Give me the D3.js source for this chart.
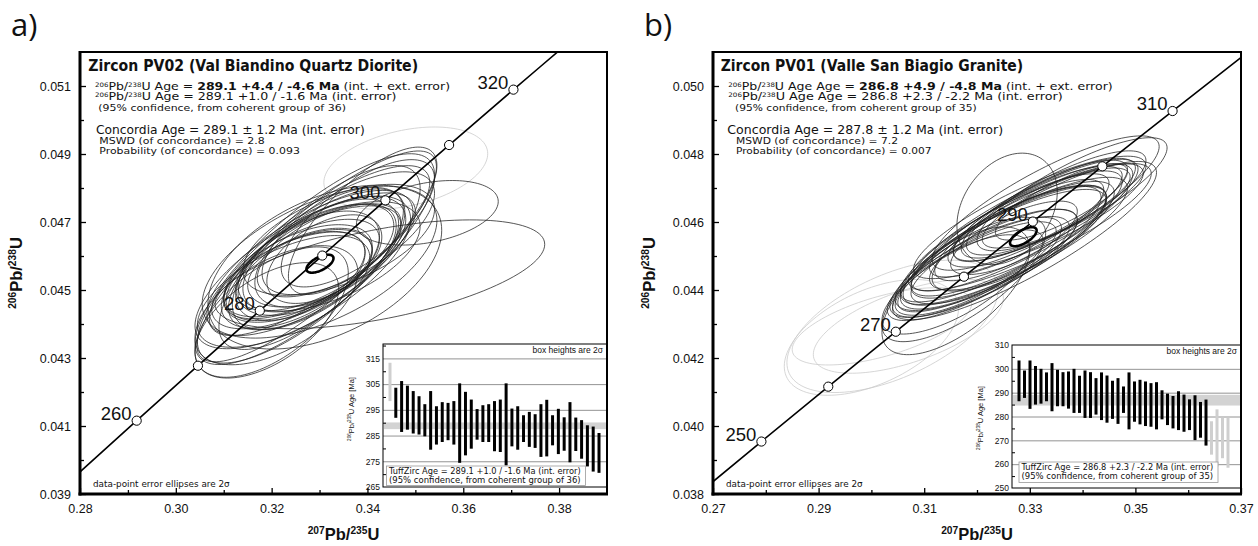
<!DOCTYPE html>
<html>
<head>
<meta charset="utf-8">
<script src="https://cdn.jsdelivr.net/npm/d3@7"></script>
<style>
  body { margin: 0; background: #fff; }
  text { white-space: pre; }
</style>
</head>
<body>
<svg id="chart" width="1258" height="546"></svg>
<script>
/* concordia reference points: age (Ma), 207Pb/235U, 206Pb/238U */
var concordiaAge = [230, 240, 250, 260, 270, 280, 290, 300, 310, 320, 330];
var concordiaX = [0.25422, 0.26664, 0.27917, 0.29183, 0.30462, 0.31753, 0.33057, 0.34374, 0.35704, 0.37047, 0.38403];
var concordiaY = [0.036323, 0.037932, 0.039543, 0.041157, 0.042773, 0.044392, 0.046013, 0.047637, 0.049264, 0.050893, 0.052524];

/* ---------- panel a : PV02 ---------- */
var markedAgesA = [260, 270, 280, 290, 300, 310, 320];
var labelledAgesA = [260, 280, 300, 320];
var xMajorA = [0.28, 0.30, 0.32, 0.34, 0.36, 0.38];
var xMinorA = [0.29, 0.31, 0.33, 0.35, 0.37];
var yMajorA = [0.039, 0.041, 0.043, 0.045, 0.047, 0.049, 0.051];
var yMinorA = [0.040, 0.042, 0.044, 0.046, 0.048, 0.050];

// one entry per grain, first grain is outside the coherent group
var rejectedA = [1, 0, 0, 0, 0, 0, 0, 0, 0, 0, 0, 0, 0, 0, 0, 0, 0, 0, 0, 0, 0, 0, 0, 0, 0, 0, 0, 0, 0, 0, 0, 0, 0, 0, 0, 0, 0];
var ellXA = [0.3480, 0.3525, 0.3390, 0.3380, 0.3360, 0.3340, 0.3320, 0.3300, 0.3285, 0.3310, 0.3315, 0.3300, 0.3294, 0.3300, 0.3298, 0.3310, 0.3290, 0.3320, 0.3280, 0.3300, 0.3290, 0.3275, 0.3285, 0.3280, 0.3265, 0.3255, 0.3265, 0.3311, 0.3270, 0.3426, 0.3245, 0.3260, 0.3235, 0.3225, 0.3210, 0.3200, 0.3190];
var ellSXA = [0.0171, 0.0148, 0.0155, 0.0160, 0.0180, 0.0200, 0.0150, 0.0230, 0.0185, 0.0170, 0.0150, 0.0200, 0.0250, 0.0210, 0.0180, 0.0120, 0.0165, 0.0190, 0.0215, 0.0245, 0.0250, 0.0150, 0.0175, 0.0130, 0.0160, 0.0155, 0.0225, 0.0244, 0.0140, 0.0344, 0.0150, 0.0215, 0.0160, 0.0180, 0.0170, 0.0160, 0.0150];
var ellYA = [0.048585, 0.047271, 0.047035, 0.046962, 0.046670, 0.046476, 0.046167, 0.046159, 0.045843, 0.046054, 0.046086, 0.046005, 0.045989, 0.045956, 0.045924, 0.045908, 0.045956, 0.045989, 0.045794, 0.045819, 0.045908, 0.045713, 0.045681, 0.045640, 0.045591, 0.045486, 0.045518, 0.045673, 0.045535, 0.045462, 0.045299, 0.045413, 0.045283, 0.044959, 0.044553, 0.044350, 0.044107];
var ellSYA = [0.001209, 0.000949, 0.002168, 0.001872, 0.001806, 0.001632, 0.001369, 0.002498, 0.001632, 0.001697, 0.001588, 0.001851, 0.003100, 0.002705, 0.002091, 0.001303, 0.001566, 0.001609, 0.002136, 0.002234, 0.003100, 0.001609, 0.001851, 0.001139, 0.001489, 0.001435, 0.002245, 0.002410, 0.001281, 0.001600, 0.001424, 0.002562, 0.001424, 0.001643, 0.001752, 0.001917, 0.001697];
var ellRhoA = [0.35, 0.35, 0.75, 0.70, 0.65, 0.55, 0.60, 0.80, 0.65, 0.60, 0.55, 0.70, 0.85, 0.75, 0.65, 0.50, 0.60, 0.55, 0.70, 0.55, 0.80, 0.55, 0.65, 0.45, 0.60, 0.55, 0.70, 0.45, 0.50, 0.55, 0.55, 0.75, 0.60, 0.60, 0.55, 0.60, 0.55];
var barLoA = [298.4, 291.9, 286.4, 287.3, 285.8, 285.4, 284.7, 279.5, 281.5, 282.5, 283.2, 281.5, 274.4, 277.3, 279.9, 283.4, 282.5, 282.5, 278.9, 278.6, 273.4, 280.8, 279.5, 282.5, 280.6, 280.2, 276.7, 276.9, 281.2, 277.8, 279.1, 274.6, 279.0, 276.0, 273.0, 271.0, 270.5];
var barHiA = [313.3, 303.6, 306.2, 304.4, 302.3, 300.3, 297.2, 302.3, 296.4, 298.0, 297.7, 298.4, 305.3, 302.0, 299.0, 295.3, 296.8, 297.2, 298.4, 299.0, 305.3, 295.5, 296.4, 292.9, 294.2, 293.3, 297.2, 298.9, 292.9, 295.4, 292.1, 298.0, 292.0, 291.0, 289.0, 288.5, 286.0];
var concEllA = [0.33009, 0.00282, 0.045774, 0.000265, 0.6];   // x, sx, y, sy, rho
var bandA = [287.5, 290.1];
var insetLabelsA = [265, 275, 285, 295, 305, 315];
var insetMinorA = [270, 280, 290, 300, 310, 320];

var titleA = "Zircon PV02 (Val Biandino Quartz Diorite)";
var headerA = [
  [["206", "s"], ["Pb/", ""], ["238", "s"], ["U Age = ", ""], ["289.1 +4.4 / -4.6 Ma", "b"], [" (int. + ext. error)", ""]],
  [["206", "s"], ["Pb/", ""], ["238", "s"], ["U Age = 289.1 +1.0 / -1.6 Ma (int. error)", ""]],
  [["(95% confidence, from coherent group of 36)", ""]],
  [["Concordia Age = 289.1 \u00b1 1.2 Ma (int. error)", ""]],
  [["MSWD (of concordance) = 2.8", ""]],
  [["Probability (of concordance) = 0.093", ""]]
];
var tuffA = ["TuffZirc Age = 289.1 +1.0 / -1.6 Ma (int. error)", "(95% confidence, from coherent group of 36)"];

/* ---------- panel b : PV01 ---------- */
var markedAgesB = [250, 260, 270, 280, 290, 300, 310];
var labelledAgesB = [250, 270, 290, 310];
var xMajorB = [0.27, 0.29, 0.31, 0.33, 0.35, 0.37];
var xMinorB = [0.28, 0.30, 0.32, 0.34, 0.36];
var yMajorB = [0.038, 0.040, 0.042, 0.044, 0.046, 0.048, 0.050];
var yMinorB = [0.039, 0.041, 0.043, 0.045, 0.047, 0.049];

// last four grains are outside the coherent group
var rejectedB = [0, 0, 0, 0, 0, 0, 0, 0, 0, 0, 0, 0, 0, 0, 0, 0, 0, 0, 0, 0, 0, 0, 0, 0, 0, 0, 0, 0, 0, 0, 0, 0, 0, 0, 0, 1, 1, 1, 1];
var ellXB = [0.3380, 0.3360, 0.3330, 0.3345, 0.3340, 0.3350, 0.3257, 0.3320, 0.3315, 0.3330, 0.3300, 0.3280, 0.3290, 0.3300, 0.3280, 0.3285, 0.3265, 0.3280, 0.3270, 0.3270, 0.3290, 0.3255, 0.3260, 0.3250, 0.3245, 0.3240, 0.3250, 0.3225, 0.3200, 0.3215, 0.3195, 0.3185, 0.3175, 0.3160, 0.3160, 0.3020, 0.3040, 0.3070, 0.3000];
var ellSXB = [0.0180, 0.0125, 0.0215, 0.0175, 0.0160, 0.0140, 0.0095, 0.0165, 0.0160, 0.0185, 0.0220, 0.0170, 0.0215, 0.0230, 0.0160, 0.0210, 0.0210, 0.0165, 0.0215, 0.0120, 0.0250, 0.0180, 0.0200, 0.0195, 0.0200, 0.0205, 0.0140, 0.0150, 0.0150, 0.0175, 0.0165, 0.0140, 0.0155, 0.0140, 0.0140, 0.0170, 0.0200, 0.0180, 0.0165];
var ellYB = [0.046816, 0.046589, 0.046557, 0.046516, 0.046451, 0.046411, 0.046386, 0.046330, 0.046248, 0.046192, 0.046135, 0.045900, 0.045908, 0.045851, 0.045762, 0.045770, 0.045575, 0.045527, 0.045445, 0.045535, 0.045454, 0.045405, 0.045372, 0.045259, 0.045178, 0.045121, 0.045186, 0.044878, 0.044683, 0.044788, 0.044618, 0.044513, 0.044310, 0.044164, 0.043977, 0.042931, 0.042931, 0.042931, 0.042606];
var ellSYB = [0.001664, 0.001120, 0.001976, 0.001577, 0.001421, 0.001178, 0.001639, 0.001489, 0.001392, 0.001518, 0.001801, 0.001518, 0.001937, 0.001870, 0.001489, 0.001946, 0.001927, 0.001558, 0.001870, 0.001080, 0.002327, 0.001645, 0.001820, 0.001820, 0.001781, 0.001927, 0.001188, 0.001285, 0.001324, 0.001586, 0.001518, 0.001255, 0.001830, 0.001460, 0.001879, 0.001136, 0.001947, 0.001379, 0.001703];
var ellRhoB = [0.82, 0.80, 0.84, 0.82, 0.80, 0.78, 0.30, 0.82, 0.80, 0.82, 0.84, 0.82, 0.85, 0.84, 0.80, 0.84, 0.84, 0.76, 0.83, 0.72, 0.86, 0.80, 0.82, 0.82, 0.81, 0.83, 0.72, 0.76, 0.79, 0.80, 0.79, 0.76, 0.74, 0.72, 0.65, 0.60, 0.55, 0.60, 0.50];
var barLoB = [286.4, 287.8, 283.2, 285.0, 285.4, 286.4, 282.2, 284.3, 284.3, 283.3, 281.5, 281.5, 279.4, 279.4, 280.8, 278.5, 277.4, 279.0, 276.9, 281.5, 274.6, 277.8, 276.7, 276.0, 275.7, 274.6, 278.8, 276.4, 275.0, 274.3, 273.6, 274.3, 270.1, 271.1, 267.8, 264.0, 259.0, 262.5, 258.5];
var barHiB = [303.5, 299.3, 303.5, 301.2, 300.0, 298.5, 302.4, 299.6, 298.6, 298.9, 300.0, 297.1, 299.3, 298.6, 296.1, 298.5, 297.2, 295.0, 296.1, 292.6, 298.5, 294.7, 295.4, 294.7, 294.0, 294.4, 291.0, 289.6, 288.6, 290.6, 289.2, 287.2, 288.9, 286.1, 287.1, 278.0, 283.0, 279.5, 279.5];
var concEllB = [0.32877, 0.00252, 0.045568, 0.000280, 0.65];
var bandB = [284.6, 289.1];
var insetLabelsB = [250, 260, 270, 280, 290, 300, 310];
var insetMinorB = [255, 265, 275, 285, 295, 305];

var titleB = "Zircon PV01 (Valle San Biagio Granite)";
var headerB = [
  [["206", "s"], ["Pb/", ""], ["238", "s"], ["U Age Age = ", ""], ["286.8 +4.9 / -4.8 Ma", "b"], [" (int. + ext. error)", ""]],
  [["206", "s"], ["Pb/", ""], ["238", "s"], ["U Age Age = 286.8 +2.3 / -2.2 Ma (int. error)", ""]],
  [["(95% confidence, from coherent group of 35)", ""]],
  [["Concordia Age = 287.8 \u00b1 1.2 Ma (int. error)", ""]],
  [["MSWD (of concordance) = 7.2", ""]],
  [["Probability (of concordance) = 0.007", ""]]
];
var tuffB = ["TuffZirc Age = 286.8 +2.3 / -2.2 Ma (int. error)", "(95% confidence, from coherent group of 35)"];

var xTitle = [["207", "s"], ["Pb/", ""], ["235", "s"], ["U", ""]];
var yTitle = [["206", "s"], ["Pb/", ""], ["238", "s"], ["U", ""]];
var insetTitle = [["206", "s"], ["Pb/", ""], ["238", "s"], ["U Age [Ma]", ""]];


var svg = d3.select("#chart");
var defs = svg.append("defs");

// text with superscripts / bold runs, optionally squeezed to a given width
function richText(parent, x, y, parts, size, opts) {
  opts = opts || {};
  var rise = opts.rise || 0.38;
  var t = parent.append("text")
      .attr("font-family", opts.family || "DejaVu Sans")
      .attr("font-size", size)
      .attr("font-weight", opts.weight || "normal")
      .attr("fill", "#111");
  var up = false;
  parts.forEach(function(part) {
    var s = t.append("tspan").text(part[0]);
    if (part[1] === "s") {
      s.attr("font-size", size * (opts.supSize || 0.62));
      if (!up) s.attr("dy", -size * rise);
      up = true;
    } else {
      if (up) s.attr("dy", size * rise);
      up = false;
      if (part[1] === "b") s.attr("font-weight", "bold");
    }
  });
  var w = t.node().getComputedTextLength();
  var k = opts.width ? opts.width / w : 1;
  var shift = opts.middle ? -w * k / 2 : 0;
  t.attr("transform", "translate(" + x + "," + y + ")" + (opts.rotate ? " rotate(" + opts.rotate + ")" : "") +
      " translate(" + shift + ",0) scale(" + k + ",1)");
  return t;
}

function ellipsePoints(d) {
  var r = Math.sqrt(1 - d.rho * d.rho);
  return d3.range(120).map(function(i) {
    var a = 2 * Math.PI * i / 120;
    return [d.x + d.sx * Math.cos(a), d.y + d.sy * (d.rho * Math.cos(a) + r * Math.sin(a))];
  });
}

function drawPanel(p) {
  var x = d3.scaleLinear().domain(p.xDomain).range([p.left, p.right]);
  var y = d3.scaleLinear().domain(p.yDomain).range([p.bottom, p.top]);

  defs.append("clipPath").attr("id", "clip-" + p.name)
    .append("rect")
    .attr("x", p.left).attr("y", p.top)
    .attr("width", p.right - p.left).attr("height", p.bottom - p.top);

  var plot = svg.append("g").attr("clip-path", "url(#clip-" + p.name + ")");

  var grains = p.ellX.map(function(v, i) {
    return { x: v, sx: p.ellSX[i], y: p.ellY[i], sy: p.ellSY[i], rho: p.ellRho[i], rejected: p.rejected[i] };
  });
  grains.sort(function(a, b) { return b.rejected - a.rejected; });

  var path = d3.line()
      .x(function(d) { return x(d[0]); })
      .y(function(d) { return y(d[1]); })
      .curve(d3.curveLinearClosed);

  plot.selectAll("path.grain")
    .data(grains)
    .enter()
    .append("path")
    .attr("class", "grain")
    .attr("d", function(d) { return path(ellipsePoints(d)); })
    .attr("fill", "none")
    .attr("stroke", function(d) { return d.rejected ? "#c8c8c8" : "#1e1e1e"; })
    .attr("stroke-width", 0.75);

  // concordia curve
  var curve = d3.line()
      .x(function(d, i) { return x(concordiaX[i]); })
      .y(function(d, i) { return y(concordiaY[i]); })
      .curve(d3.curveCatmullRom);
  plot.append("path")
    .attr("d", curve(concordiaAge))
    .attr("fill", "none")
    .attr("stroke", "#000")
    .attr("stroke-width", 1.6);

  // concordia age ellipse
  var ce = { x: p.concEll[0], sx: p.concEll[1], y: p.concEll[2], sy: p.concEll[3], rho: p.concEll[4] };
  plot.append("path")
    .attr("d", path(ellipsePoints(ce)))
    .attr("fill", "none")
    .attr("stroke", "#000")
    .attr("stroke-width", 2.6);

  // age markers
  plot.selectAll("circle.age")
    .data(p.marked)
    .enter()
    .append("circle")
    .attr("cx", function(d) { return x(concordiaX[concordiaAge.indexOf(d)]); })
    .attr("cy", function(d) { return y(concordiaY[concordiaAge.indexOf(d)]); })
    .attr("r", 4.6)
    .attr("fill", "#fff")
    .attr("stroke", "#000")
    .attr("stroke-width", 1);

  plot.selectAll("text.age")
    .data(p.labelled)
    .enter()
    .append("text")
    .attr("x", function(d) { return x(concordiaX[concordiaAge.indexOf(d)]) - 5; })
    .attr("y", function(d) { return y(concordiaY[concordiaAge.indexOf(d)]) - 1; })
    .attr("text-anchor", "end")
    .attr("font-family", "Liberation Sans")
    .attr("font-size", 18.5)
    .attr("fill", "#111")
    .text(function(d) { return d; });

  drawInset(p);

  // frame and axes
  svg.append("rect")
    .attr("x", p.left).attr("y", p.top)
    .attr("width", p.right - p.left).attr("height", p.bottom - p.top)
    .attr("fill", "none").attr("stroke", "#000").attr("stroke-width", 2);

  var yAxis = svg.append("g")
    .attr("transform", "translate(" + p.left + ",0)")
    .call(d3.axisLeft(y).tickValues(p.yMajor).tickSize(-6).tickPadding(9).tickFormat(d3.format(".3f")));
  var yAxisMinor = svg.append("g")
    .attr("transform", "translate(" + p.left + ",0)")
    .call(d3.axisLeft(y).tickValues(p.yMinor).tickSize(-4).tickFormat(""));
  var xAxis = svg.append("g")
    .attr("transform", "translate(0," + p.bottom + ")")
    .call(d3.axisBottom(x).tickValues(p.xMajor).tickSize(-6).tickPadding(10).tickFormat(d3.format(".2f")));
  var xAxisMinor = svg.append("g")
    .attr("transform", "translate(0," + p.bottom + ")")
    .call(d3.axisBottom(x).tickValues(p.xMinor).tickSize(-4).tickFormat(""));

  [yAxis, yAxisMinor, xAxis, xAxisMinor].forEach(function(a) {
    a.select(".domain").remove();
    a.attr("font-family", "Liberation Sans").attr("font-size", 12.5);
    a.selectAll("line").attr("stroke-width", 1.3);
    a.selectAll("text").attr("fill", "#111");
  });

  svg.append("line")
    .attr("x1", p.left).attr("x2", p.left).attr("y1", p.top - 1).attr("y2", p.bottom + 1.5)
    .attr("stroke", "#000").attr("stroke-width", 3);
  svg.append("line")
    .attr("x1", p.left - 1.5).attr("x2", p.right + 1).attr("y1", p.bottom).attr("y2", p.bottom)
    .attr("stroke", "#000").attr("stroke-width", 3);

  // axis titles
  richText(svg, (p.left + p.right) / 2, 540, xTitle, 16.5, { family: "Liberation Sans", weight: "bold", middle: true });
  richText(svg, p.left - 58, (p.top + p.bottom) / 2, yTitle, 16.5, { family: "Liberation Sans", weight: "bold", middle: true, rotate: -90 });

  // panel letter
  svg.append("text")
    .attr("x", p.left - 69).attr("y", 36)
    .attr("font-family", "Open Sans")
    .attr("font-size", 31)
    .attr("fill", "#111")
    .text(p.letter);

  // header block
  richText(svg, p.titleX, 71, [[p.title, ""]], 16, { weight: "bold", width: p.titleW });
  var lineY = [89.8, 100.3, 110.5, 133.5, 144.3, 153.8];
  var lineSize = [11, 11, 9.5, 11.5, 9.5, 9.5];
  p.header.forEach(function(parts, i) {
    richText(svg, p.lineX[i], lineY[i], parts, lineSize[i], { width: p.lineW[i], rise: 0.3, supSize: 0.56 });
  });

  richText(svg, p.left + 13, 487, [["data-point error ellipses are 2\u03c3", ""]], 8.5, { width: 137 });
}

function drawInset(p) {
  var ins = p.inset;
  var g = svg.append("g");
  var yIn = d3.scaleLinear().domain(ins.domain).range([ins.bottom, ins.top]);
  var xIn = d3.scalePoint().domain(d3.range(p.barLo.length)).range(ins.barRange);
  var w = ins.right - ins.left;

  g.append("rect")
    .attr("x", ins.left).attr("y", ins.top)
    .attr("width", w).attr("height", ins.bottom - ins.top)
    .attr("fill", "#fff");

  var grid = g.append("g")
    .attr("transform", "translate(" + ins.left + ",0)")
    .call(d3.axisLeft(yIn).tickValues(ins.grid).tickSize(-w).tickFormat(""));
  grid.select(".domain").remove();
  grid.selectAll("line").attr("stroke", "#777").attr("stroke-width", 0.8);

  g.append("rect")
    .attr("x", ins.left + 1)
    .attr("width", w - 1)
    .attr("y", yIn(p.band[1]))
    .attr("height", yIn(p.band[0]) - yIn(p.band[1]))
    .attr("fill", "#d3d3d3");

  g.selectAll("line.bar")
    .data(p.barLo)
    .enter()
    .append("line")
    .attr("class", "bar")
    .attr("x1", function(d, i) { return xIn(i); })
    .attr("x2", function(d, i) { return xIn(i); })
    .attr("y1", function(d) { return yIn(d); })
    .attr("y2", function(d, i) { return yIn(p.barHi[i]); })
    .attr("stroke", function(d, i) { return p.rejected[i] ? "#cfcfcf" : "#000"; })
    .attr("stroke-width", 3);

  // TuffZirc note
  g.append("rect")
    .attr("x", ins.boxX).attr("y", ins.boxY)
    .attr("width", 199).attr("height", ins.boxH)
    .attr("fill", "#fff").attr("stroke", "#9a9a9a").attr("stroke-width", 0.8);
  richText(g, ins.boxX + 2.5, ins.boxY + 8, [[p.tuff[0], ""]], 8, { width: 192 });
  richText(g, ins.boxX + 2.5, ins.boxY + 17, [[p.tuff[1], ""]], 8, { width: 192 });

  g.append("text")
    .attr("x", ins.right - 4).attr("y", ins.top + 8.5)
    .attr("text-anchor", "end")
    .attr("font-family", "Liberation Sans")
    .attr("font-size", 8.5)
    .attr("fill", "#111")
    .text("box heights are 2\u03c3");

  g.append("rect")
    .attr("x", ins.left).attr("y", ins.top)
    .attr("width", w).attr("height", ins.bottom - ins.top)
    .attr("fill", "none").attr("stroke", "#000").attr("stroke-width", 1);

  var lab = g.append("g")
    .attr("transform", "translate(" + ins.left + ",0)")
    .call(d3.axisLeft(yIn).tickValues(ins.labels).tickSize(0).tickPadding(3));
  var minor = g.append("g")
    .attr("transform", "translate(" + ins.left + ",0)")
    .call(d3.axisLeft(yIn).tickValues(ins.minor).tickSize(-3).tickFormat(""));
  [lab, minor].forEach(function(a) {
    a.select(".domain").remove();
    a.attr("font-family", "Liberation Sans").attr("font-size", 8.5);
    a.selectAll("text").attr("fill", "#111");
  });

  richText(g, ins.left - 29.5, ins.titleY, insetTitle, 7.5, { family: "Liberation Sans", middle: true, rotate: -90 });
}

drawPanel({
  name: "a", letter: "a)",
  left: 80, right: 607, top: 52, bottom: 494,
  xDomain: [0.28, 0.39], yDomain: [0.039, 0.052],
  xMajor: xMajorA, xMinor: xMinorA, yMajor: yMajorA, yMinor: yMinorA,
  marked: markedAgesA, labelled: labelledAgesA,
  rejected: rejectedA, ellX: ellXA, ellSX: ellSXA, ellY: ellYA, ellSY: ellSYA, ellRho: ellRhoA,
  concEll: concEllA, barLo: barLoA, barHi: barHiA, band: bandA, tuff: tuffA,
  title: titleA, titleX: 88.3, titleW: 330, header: headerA,
  lineX: [95, 95, 98.3, 96, 99.3, 99.3], lineW: [355.7, 301.7, 247.7, 269, 165.7, 200.7],
  inset: { left: 383, right: 607, top: 344, bottom: 487, domain: [265, 320.6], barRange: [390, 599],
           grid: [275, 285, 295, 305, 315], labels: insetLabelsA, minor: insetMinorA,
           boxX: 386.5, boxY: 466, boxH: 19.5, titleY: 409 }
});

drawPanel({
  name: "b", letter: "b)",
  left: 713, right: 1241, top: 52, bottom: 494,
  xDomain: [0.27, 0.37], yDomain: [0.038, 0.051],
  xMajor: xMajorB, xMinor: xMinorB, yMajor: yMajorB, yMinor: yMinorB,
  marked: markedAgesB, labelled: labelledAgesB,
  rejected: rejectedB, ellX: ellXB, ellSX: ellSXB, ellY: ellYB, ellSY: ellSYB, ellRho: ellRhoB,
  concEll: concEllB, barLo: barLoB, barHi: barHiB, band: bandB, tuff: tuffB,
  title: titleB, titleX: 720.7, titleW: 302.6, header: headerB,
  lineX: [728.3, 728.3, 735, 727.3, 736, 736], lineW: [384.7, 335, 241.7, 276, 162.3, 195.7],
  inset: { left: 1012, right: 1241, top: 345, bottom: 488, domain: [250, 310], barRange: [1019, 1228],
           grid: [260, 270, 280, 290, 300], labels: insetLabelsB, minor: insetMinorB,
           boxX: 1019, boxY: 462, boxH: 20.5, titleY: 418 }
});
</script>
</body>
</html>
